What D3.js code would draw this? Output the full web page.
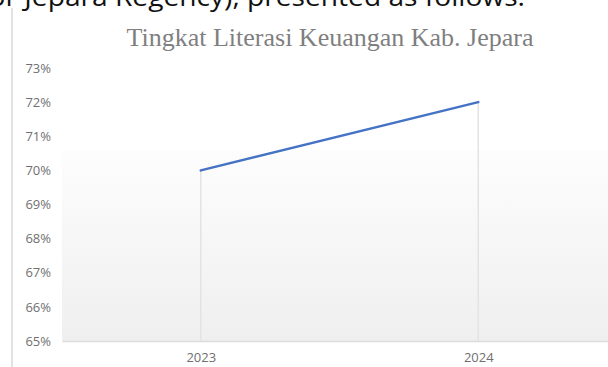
<!DOCTYPE html>
<html>
<head>
<meta charset="utf-8">
<script src="https://cdn.jsdelivr.net/npm/d3@7"></script>
<style>
    body { margin: 0; background: #ffffff; }
    svg { display: block; }
</style>
</head>
<body>
<div class="graphContainer"></div>
<script>
// Chart data
const years = ["2023", "2024"];
const literacy = [0.70, 0.72];
const yTicks = [0.65, 0.66, 0.67, 0.68, 0.69, 0.70, 0.71, 0.72, 0.73];
const chartTitle = "Tingkat Literasi Keuangan Kab. Jepara";
const topText = "For Jepara Regency), presented as follows:";

const width = 608, height = 367;
const margin = { top: 68, right: -9, bottom: 26, left: 62 };

const svg = d3.select(".graphContainer")
    .append("svg")
    .attr("width", width)
    .attr("height", height);

// gradient for the plot area
const defs = svg.append("defs");
const grad = defs.append("linearGradient")
    .attr("id", "plotGrad")
    .attr("x1", 0).attr("y1", 0).attr("x2", 0).attr("y2", 1);
grad.append("stop").attr("offset", "0%").attr("stop-color", "#fdfdfd");
grad.append("stop").attr("offset", "100%").attr("stop-color", "#efefef");

// cut-off line of document text at the top
svg.append("text")
    .attr("x", -26)
    .attr("y", 6)
    .attr("textLength", 551)
    .attr("lengthAdjust", "spacingAndGlyphs")
    .style("font-family", "Open Sans, sans-serif")
    .style("font-size", "25px")
    .style("fill", "#111")
    .text(topText);

// left border of the chart frame
svg.append("line")
    .attr("x1", 12).attr("x2", 12)
    .attr("y1", 8).attr("y2", height)
    .attr("stroke", "#e2e2e2")
    .attr("stroke-width", 2);

const xScale = d3.scalePoint()
    .domain(years)
    .range([margin.left, width - margin.right])
    .padding(0.5);

const yScale = d3.scaleLinear()
    .domain([0.65, 0.73])
    .range([height - margin.bottom, margin.top]);

// shaded plot area
svg.append("rect")
    .attr("x", margin.left)
    .attr("y", 150)
    .attr("width", width - margin.left)
    .attr("height", yScale(0.65) - 150)
    .attr("fill", "url(#plotGrad)");

// title
svg.append("text")
    .attr("x", 330)
    .attr("y", 46)
    .attr("text-anchor", "middle")
    .style("font-family", "Liberation Serif, Times New Roman, serif")
    .style("font-size", "26px")
    .style("fill", "#7f7f7f")
    .text(chartTitle);

// y axis labels
const yAxis = svg.append("g")
    .attr("transform", "translate(51,0)")
    .call(d3.axisLeft(yScale)
        .tickValues(yTicks)
        .tickSize(0)
        .tickPadding(0)
        .tickFormat(d3.format(".0%")));
yAxis.select(".domain").remove();
yAxis.selectAll("text")
    .style("font-family", "Open Sans, sans-serif")
    .style("font-size", "13px")
    .style("fill", "#707070");

// x axis
const xAxis = svg.append("g")
    .attr("transform", "translate(0," + yScale(0.65) + ")")
    .call(d3.axisBottom(xScale).tickSize(0).tickPadding(12));
xAxis.select(".domain")
    .attr("stroke", "#dcdcdc")
    .attr("stroke-width", 1.5);
xAxis.selectAll("text")
    .style("font-family", "Open Sans, sans-serif")
    .style("font-size", "13px")
    .style("fill", "#707070");

const points = years.map((y, i) => ({ x: y, v: literacy[i] }));

// drop lines
svg.append("g")
    .selectAll("line")
    .data(points)
    .join("line")
    .attr("x1", d => xScale(d.x))
    .attr("x2", d => xScale(d.x))
    .attr("y1", d => yScale(d.v))
    .attr("y2", yScale(0.65))
    .attr("stroke", "#e3e3e3")
    .attr("stroke-width", 1.5);

// series line
const line = d3.line()
    .x(d => xScale(d.x))
    .y(d => yScale(d.v));

svg.append("path")
    .datum(points)
    .attr("fill", "none")
    .attr("stroke", "#4472c4")
    .attr("stroke-width", 2.5)
    .attr("stroke-linecap", "round")
    .attr("d", line);
</script>
</body>
</html>
